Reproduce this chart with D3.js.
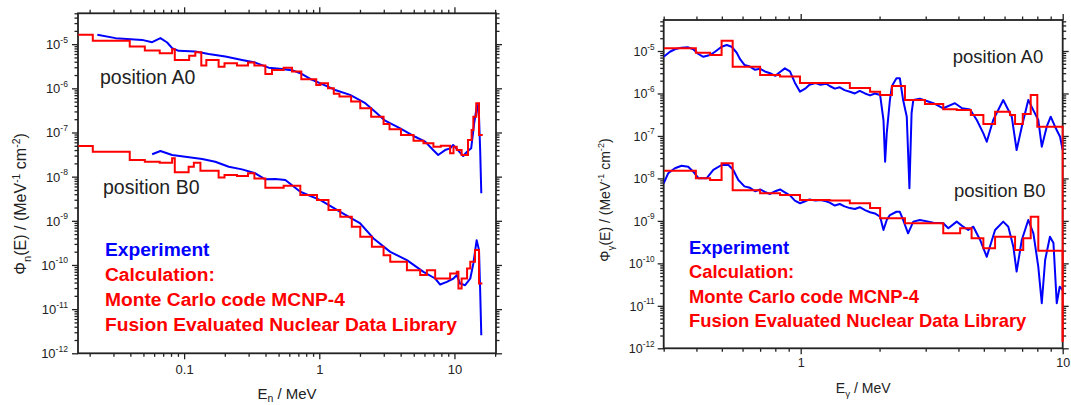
<!DOCTYPE html>
<html>
<head>
<meta charset="utf-8">
<script src="https://cdn.jsdelivr.net/npm/d3@7"></script>
<style>
body { margin: 0; background: #fff; }
svg text { font-family: Arial, "Liberation Sans", sans-serif; fill: #222; }
</style>
</head>
<body>
<svg id="chart" width="1071" height="405"></svg>
<script>
// ---- neutron spectra (left panel), [E in MeV, flux] ----
var nA0Calc = [[0.0165,1.63e-5],[0.0211,1.19e-5],[0.0396,8.8e-6],[0.0512,7.2e-6],[0.066,6.25e-6],[0.0815,7.7e-6],[0.0853,4.4e-6],[0.109,5.5e-6],[0.121,6.6e-6],[0.134,3.27e-6],[0.146,4.4e-6],[0.180,3.10e-6],[0.199,3.71e-6],[0.246,3.27e-6],[0.297,3.83e-6],[0.331,3.27e-6],[0.399,2.12e-6],[0.447,2.61e-6],[0.545,2.94e-6],[0.628,2.39e-6],[0.736,1.61e-6],[0.950,1.19e-6],[1.02,1.30e-6],[1.16,1.00e-6],[1.28,7.5e-7],[1.41,6.5e-7],[1.72,5.0e-7],[2.01,3.54e-7],[2.42,2.28e-7],[2.99,1.56e-7],[3.31,1.18e-7],[4.02,8.8e-8],[4.98,6.5e-8],[5.90,5.7e-8],[6.99,4.77e-8],[7.93,5.0e-8],[9.29,3.38e-8],[9.84,4.77e-8],[10.4,4.0e-8],[11.3,3.09e-8],[12.6,6.8e-8],[13.4,1.14e-7],[13.8,2.28e-7],[14.5,4.6e-7],[15.2,8.8e-8],[16.2,8.8e-8]];
var nA0Exp = [[0.0228,1.63e-5],[0.0311,1.37e-5],[0.0489,1.25e-5],[0.058,1.11e-5],[0.0668,1.37e-5],[0.0749,1.09e-5],[0.0815,8.1e-6],[0.0912,7.05e-6],[0.121,6.8e-6],[0.152,6.0e-6],[0.202,5.24e-6],[0.268,4.4e-6],[0.336,3.83e-6],[0.422,2.94e-6],[0.530,2.75e-6],[0.643,2.52e-6],[0.724,2.20e-6],[0.858,1.63e-6],[1.02,1.30e-6],[1.31,9.2e-7],[1.69,7.1e-7],[2.19,4.6e-7],[2.59,2.96e-7],[3.07,1.85e-7],[3.97,1.24e-7],[5.12,8.0e-8],[6.07,6.2e-8],[6.96,4.0e-8],[7.58,3.09e-8],[8.53,4.0e-8],[9.29,4.38e-8],[9.78,5.2e-8],[10.6,4.0e-8],[11.6,2.93e-8],[12.4,3.67e-8],[13.3,4.38e-8],[14.0,1.62e-7],[14.7,4.2e-7],[15.2,2.28e-7],[15.5,4.0e-8],[15.8,4.2e-9]];
var nB0Calc = [[0.0165,4.94e-8],[0.0211,3.67e-8],[0.0396,2.38e-8],[0.0512,2.18e-8],[0.066,2.07e-8],[0.0815,2.60e-8],[0.0853,1.25e-8],[0.108,1.68e-8],[0.118,2.07e-8],[0.132,1.36e-8],[0.180,9.6e-9],[0.199,1.09e-8],[0.246,1.03e-8],[0.297,1.19e-8],[0.331,9.1e-9],[0.399,5.6e-9],[0.545,6.2e-9],[0.724,3.83e-9],[0.962,2.95e-9],[1.17,1.75e-9],[1.43,1.23e-9],[1.74,7.3e-10],[2.01,4.34e-10],[2.45,2.57e-10],[2.99,1.67e-10],[3.35,1.18e-10],[4.45,7.6e-11],[5.58,5.9e-11],[6.25,7.6e-11],[7.20,4.94e-11],[9.29,6.4e-11],[10.4,6.98e-11],[10.7,2.93e-11],[11.3,4.94e-11],[12.4,8.3e-11],[13.1,1.18e-10],[14.2,2.17e-10],[15.2,3.80e-11],[16.1,3.80e-11]];
var nB0Exp = [[0.058,3.21e-8],[0.0668,3.80e-8],[0.0815,3.09e-8],[0.102,2.83e-8],[0.136,2.51e-8],[0.170,2.18e-8],[0.214,1.68e-8],[0.268,1.46e-8],[0.336,1.19e-8],[0.399,8.7e-9],[0.473,8.8e-9],[0.561,8.4e-9],[0.724,4.55e-9],[1.02,2.95e-9],[1.43,1.60e-9],[2.01,8.7e-10],[2.52,3.99e-10],[3.35,1.98e-10],[4.45,1.29e-10],[5.90,6.98e-11],[7.20,4.94e-11],[7.84,3.61e-11],[8.79,4.14e-11],[9.84,4.94e-11],[10.4,5.9e-11],[11.0,3.80e-11],[12.0,3.48e-11],[13.1,4.94e-11],[13.8,1.08e-10],[14.6,3.65e-10],[15.2,2.17e-10],[15.5,2.68e-11],[15.8,2.56e-12]];

// ---- gamma spectra (right panel) ----
var gA0Calc = [[0.300,1.16e-5],[0.398,9.1e-6],[0.451,8.05e-6],[0.499,1.75e-5],[0.550,4.27e-6],[0.700,2.72e-6],[0.834,2.5e-6],[0.994,1.76e-6],[1.29,1.76e-6],[1.54,1.35e-6],[1.84,1.10e-6],[2.01,9.2e-7],[2.23,1.50e-6],[2.50,7.0e-7],[2.98,5.65e-7],[3.50,4.24e-7],[3.94,4.08e-7],[4.46,3.11e-7],[4.98,1.91e-7],[5.52,3.72e-7],[6.29,3.11e-7],[6.58,1.91e-7],[7.04,3.29e-7],[7.55,9.2e-7],[8.00,1.65e-7],[10,1.65e-7],[10,1.43e-12]];
var gA0Exp = [[0.300,7.3e-6],[0.317,9.6e-6],[0.331,1.10e-5],[0.351,1.20e-5],[0.372,1.22e-5],[0.389,1.10e-5],[0.407,8.5e-6],[0.425,7.3e-6],[0.451,8.05e-6],[0.471,9.6e-6],[0.499,1.26e-5],[0.522,1.38e-5],[0.545,1.26e-5],[0.570,9.1e-6],[0.587,6.4e-6],[0.61,4.7e-6],[0.64,4.3e-6],[0.67,3.6e-6],[0.70,3.8e-6],[0.73,3.3e-6],[0.764,3.0e-6],[0.80,2.6e-6],[0.834,3.2e-6],[0.87,3.9e-6],[0.91,3.3e-6],[0.95,1.8e-6],[0.994,1.1e-6],[1.04,1.3e-6],[1.08,1.6e-6],[1.14,1.75e-6],[1.19,1.6e-6],[1.25,1.7e-6],[1.29,1.5e-6],[1.35,1.3e-6],[1.41,1.4e-6],[1.47,1.2e-6],[1.54,1.1e-6],[1.61,1.0e-6],[1.68,1.15e-6],[1.76,1.0e-6],[1.84,9.0e-7],[1.92,1.0e-6],[2.01,9.2e-7],[2.07,2.37e-7],[2.10,2.47e-8],[2.13,1.15e-7],[2.19,7.0e-7],[2.23,1.50e-6],[2.32,2.28e-6],[2.39,2.28e-6],[2.46,7.0e-7],[2.54,2.84e-7],[2.60,5.85e-9],[2.65,3.47e-7],[2.69,7.0e-7],[2.85,7.5e-7],[3.21,5.9e-7],[3.50,4.48e-7],[3.88,5.9e-7],[4.13,4.5e-7],[4.43,4.2e-7],[4.70,2.37e-7],[4.98,1.15e-7],[5.13,7.3e-8],[5.43,2.37e-7],[5.93,7.0e-7],[6.39,2.84e-7],[6.67,4.67e-8],[6.98,1.65e-7],[7.39,7.0e-7],[7.73,4.0e-7],[8.07,2.37e-7],[8.32,5.6e-8],[8.69,1.65e-7],[9.00,2.84e-7],[9.35,1.65e-7],[9.77,9.6e-8],[10,4.67e-8]];
var gB0Calc = [[0.300,1.52e-8],[0.398,1.01e-8],[0.451,9.2e-9],[0.499,2.27e-8],[0.550,5.3e-9],[0.700,4.5e-9],[0.834,4.07e-9],[0.994,3.1e-9],[1.29,3.0e-9],[1.54,2.6e-9],[1.84,2.0e-9],[2.01,1.15e-9],[2.50,8.8e-10],[3.50,5.1e-10],[4.06,6.7e-10],[4.49,3.89e-10],[4.98,2.26e-10],[5.52,4.24e-10],[6.58,2.06e-10],[7.07,3.89e-10],[7.55,1.25e-9],[8.07,1.99e-10],[10,1.99e-10],[10,1.43e-12]];
var gB0Exp = [[0.300,7.7e-9],[0.312,1.32e-8],[0.331,1.73e-8],[0.351,1.99e-8],[0.372,1.89e-8],[0.389,1.44e-8],[0.407,1.01e-8],[0.438,1.01e-8],[0.464,1.58e-8],[0.499,2.07e-8],[0.530,2.07e-8],[0.553,1.58e-8],[0.578,9.2e-9],[0.61,6.5e-9],[0.64,6.0e-9],[0.67,5.0e-9],[0.70,5.5e-9],[0.73,4.8e-9],[0.764,4.3e-9],[0.80,5.0e-9],[0.834,5.5e-9],[0.87,4.7e-9],[0.91,4.0e-9],[0.95,3.0e-9],[0.994,2.6e-9],[1.04,2.9e-9],[1.08,3.2e-9],[1.14,3.0e-9],[1.19,3.1e-9],[1.25,2.9e-9],[1.29,2.7e-9],[1.35,2.3e-9],[1.41,2.5e-9],[1.47,2.2e-9],[1.54,2.0e-9],[1.61,1.9e-9],[1.68,2.1e-9],[1.76,1.8e-9],[1.84,1.6e-9],[1.92,1.5e-9],[2.01,1.25e-9],[2.07,6.1e-10],[2.13,1.05e-9],[2.19,1.37e-9],[2.32,1.64e-9],[2.39,1.64e-9],[2.46,1.05e-9],[2.57,5.1e-10],[2.69,9.6e-10],[2.85,1.05e-9],[3.21,9.1e-10],[3.50,8.8e-10],[3.66,6.7e-10],[3.94,9.6e-10],[4.17,7.3e-10],[4.36,6.1e-10],[4.56,7.3e-10],[4.84,3.55e-10],[5.13,1.43e-10],[5.52,6.1e-10],[5.93,9.6e-10],[6.20,7.3e-10],[6.48,2.47e-10],[6.67,6.4e-11],[6.98,3.55e-10],[7.39,1.05e-9],[7.73,5.1e-10],[8.07,8.3e-11],[8.32,1.15e-11],[8.57,1.20e-10],[8.94,4.24e-10],[9.22,3.0e-10],[9.49,1.15e-11],[9.74,2.82e-11],[10,2.35e-11]];

// ---- axis tick labels ----
var leftXLabels = [0.1, 1, 10];
var rightXLabels = [1, 10];
var yDecades = [-12, -11, -10, -9, -8, -7, -6, -5];
var legendLines = ["Experiment", "Calculation:", "Monte Carlo code MCNP-4", "Fusion Evaluated Nuclear Data Library"];

var svg = d3.select("#chart");
var BLUE = "#0000ff", RED = "#ff0000";

function logTicks(dom) {
    var out = [];
    var e0 = Math.floor(Math.log10(dom[0])), e1 = Math.ceil(Math.log10(dom[1]));
    for (var e = e0; e <= e1; e++) {
        for (var m = 1; m <= 9; m++) {
            var v = +(m * Math.pow(10, e)).toPrecision(3);
            if (v >= dom[0] * 0.999 && v <= dom[1] * 1.001) out.push({ v: v, major: m === 1 });
        }
    }
    return out;
}

function drawPanel(p) {
    var x = d3.scaleLog().domain(p.xDomain).range([p.left, p.right]);
    var y = d3.scaleLog().domain(p.yDomain).range([p.bottom, p.top]);
    var g = svg.append("g");

    var xt = logTicks(p.xDomain), yt = logTicks(p.yDomain);
    var xMaj = xt.filter(function (d) { return d.major; }).map(function (d) { return d.v; });
    var xMin = xt.filter(function (d) { return !d.major; }).map(function (d) { return d.v; });
    var yMaj = yt.filter(function (d) { return d.major; }).map(function (d) { return d.v; });
    var yMin = yt.filter(function (d) { return !d.major; }).map(function (d) { return d.v; });

    function addAxis(axisFn, scale, vals, size, transform, labels) {
        var a = axisFn(scale).tickValues(vals).tickSize(size).tickSizeOuter(0);
        if (labels) {
            a.tickPadding(p.xPad).tickFormat(function (d) { return labels.indexOf(d) >= 0 ? String(d) : ""; });
        } else {
            a.tickFormat("");
        }
        var ag = g.append("g").attr("transform", transform).call(a);
        ag.select(".domain").remove();
        ag.selectAll("line").attr("stroke", "#222").attr("stroke-width", 1.3);
        ag.selectAll("text").attr("font-size", p.tickFont + "px").attr("fill", "#222")
            .style("font-family", "Arial, 'Liberation Sans', sans-serif");
    }

    // ticks on all four sides
    addAxis(d3.axisBottom, x, xMaj, 6, "translate(0," + p.bottom + ")", p.xLabels);
    addAxis(d3.axisBottom, x, xMin, 3.5, "translate(0," + p.bottom + ")", null);
    addAxis(d3.axisTop, x, xMaj, 6, "translate(0," + p.top + ")", null);
    addAxis(d3.axisTop, x, xMin, 3.5, "translate(0," + p.top + ")", null);
    addAxis(d3.axisLeft, y, yMaj, 6, "translate(" + p.left + ",0)", null);
    addAxis(d3.axisLeft, y, yMin, 3.5, "translate(" + p.left + ",0)", null);
    addAxis(d3.axisRight, y, yMaj, 6, "translate(" + p.right + ",0)", null);
    addAxis(d3.axisRight, y, yMin, 3.5, "translate(" + p.right + ",0)", null);

    // frame
    g.append("rect")
        .attr("x", p.left).attr("y", p.top)
        .attr("width", p.right - p.left).attr("height", p.bottom - p.top)
        .attr("fill", "none").attr("stroke", "#222").attr("stroke-width", 1.8);

    // y tick labels 10^n
    yDecades.forEach(function (e) {
        var t = g.append("text")
            .attr("x", p.left - p.yLabGap)
            .attr("y", y(Math.pow(10, e)) + p.tickFont * 0.38)
            .attr("text-anchor", "end")
            .attr("font-size", p.tickFont + "px");
        t.append("tspan").text("10");
        t.append("tspan").attr("font-size", (p.tickFont * 0.66) + "px")
            .attr("dy", -p.tickFont * 0.5).text(e);
    });

    // curves
    var clipId = "clip" + p.id;
    svg.append("clipPath").attr("id", clipId).append("rect")
        .attr("x", p.left).attr("y", p.top - 1)
        .attr("width", p.right - p.left + 1).attr("height", p.bottom - p.top + 2);
    var cg = g.append("g").attr("clip-path", "url(#" + clipId + ")");

    var expLine = d3.line().x(function (d) { return x(d[0]); }).y(function (d) { return y(d[1]); });
    var calcLine = d3.line().curve(d3.curveStepAfter)
        .x(function (d) { return x(d[0]); }).y(function (d) { return y(d[1]); });

    p.exp.forEach(function (s) {
        cg.append("path").datum(s).attr("d", expLine)
            .attr("fill", "none").attr("stroke", BLUE).attr("stroke-width", 2)
            .attr("stroke-linejoin", "round");
    });
    p.calc.forEach(function (s) {
        cg.append("path").datum(s).attr("d", calcLine)
            .attr("fill", "none").attr("stroke", RED).attr("stroke-width", 2);
    });

    // position labels
    p.pos.forEach(function (q) {
        g.append("text").attr("x", q.x).attr("y", q.y)
            .attr("font-size", p.posFont + "px").attr("fill", "#222").text(q.t);
    });

    // legend text
    legendLines.forEach(function (s, i) {
        g.append("text")
            .attr("x", p.legX).attr("y", p.legY + i * p.legStep)
            .attr("font-size", p.legFont + "px").attr("font-weight", "bold")
            .style("fill", i === 0 ? BLUE : RED)
            .text(s);
    });

    // x axis title
    var xt2 = g.append("text")
        .attr("x", (p.left + p.right) / 2).attr("y", p.xTitleY)
        .attr("text-anchor", "middle").attr("font-size", p.titleFont + "px");
    xt2.append("tspan").text("E");
    xt2.append("tspan").attr("font-size", (p.titleFont * 0.7) + "px").attr("dy", p.titleFont * 0.25).text(p.sub);
    xt2.append("tspan").attr("dy", -p.titleFont * 0.25).text(" / MeV");

    // y axis title
    var f = p.yTitleFont;
    var yt2 = g.append("text")
        .attr("transform", "translate(" + p.yTitleX + "," + p.yTitleY + ") rotate(-90)")
        .attr("text-anchor", "middle").attr("font-size", f + "px");
    yt2.append("tspan").text("\u03A6");
    yt2.append("tspan").attr("font-size", (f * 0.7) + "px").attr("dy", f * 0.3).text(p.sub);
    yt2.append("tspan").attr("dy", -f * 0.3).text("(E) / (MeV");
    yt2.append("tspan").attr("font-size", (f * 0.65) + "px").attr("dy", -f * 0.4).text("-1");
    yt2.append("tspan").attr("dy", f * 0.4).text(" cm");
    yt2.append("tspan").attr("font-size", (f * 0.65) + "px").attr("dy", -f * 0.4).text("-2");
    yt2.append("tspan").attr("dy", f * 0.4).text(")");
}

drawPanel({
    id: "L", left: 78, right: 496, top: 13.3, bottom: 353.3,
    xDomain: [0.0164, 20.3], yDomain: [1e-12, 5.0e-5],
    xLabels: leftXLabels, xPad: 5, tickFont: 13, yLabGap: 10,
    exp: [nA0Exp, nB0Exp], calc: [nA0Calc, nB0Calc],
    pos: [{ x: 100, y: 84, t: "position A0" }, { x: 103, y: 194, t: "position B0" }],
    posFont: 19.5,
    legX: 105, legY: 256, legStep: 24.9, legFont: 19.2,
    sub: "n", titleFont: 15, xTitleY: 398.5,
    yTitleFont: 16, yTitleX: 26, yTitleY: 204
});

drawPanel({
    id: "R", left: 663.7, right: 1062.7, top: 20, bottom: 348.3,
    xDomain: [0.3, 10], yDomain: [1e-12, 5.37e-5],
    xLabels: rightXLabels, xPad: 3.5, tickFont: 12.5, yLabGap: 9,
    exp: [gA0Exp, gB0Exp], calc: [gA0Calc, gB0Calc],
    pos: [{ x: 952.7, y: 63.3, t: "position A0" }, { x: 954, y: 196.7, t: "position B0" }],
    posFont: 18.5,
    legX: 689, legY: 254.3, legStep: 24.1, legFont: 18.4,
    sub: "\u03B3", titleFont: 14, xTitleY: 393,
    yTitleFont: 14, yTitleX: 610, yTitleY: 200
});
</script>
</body>
</html>
